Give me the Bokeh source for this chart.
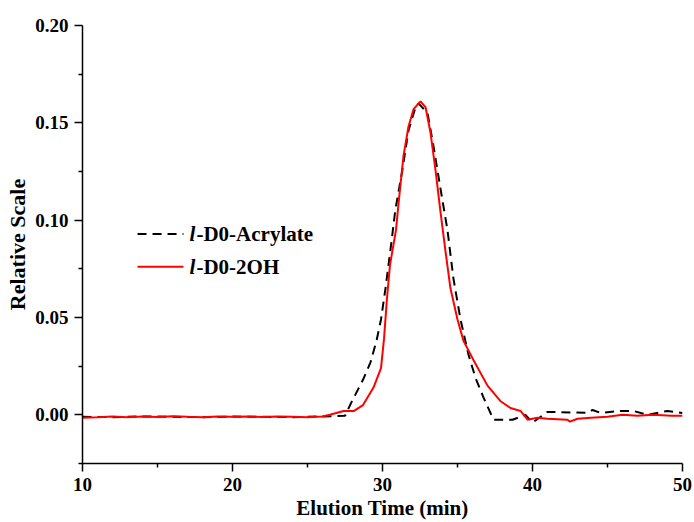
from bokeh.plotting import figure
from bokeh.models import Range1d, Label, Arrow, FixedTicker
from bokeh.embed import file_html
from bokeh.resources import INLINE

# Acrylate (black dashed)
acr_x = [10, 12, 14, 16, 18, 20, 22, 24, 26,
         27.5, 27.9, 28.7, 29.2, 29.6, 29.9, 30.2, 30.4, 30.6, 30.85,
         31.33, 31.73, 32.2, 32.4,
         33.0, 33.4, 33.87, 34.33, 34.73, 35.2, 35.73, 36.2, 36.73, 37.4,
         38.67, 39.53, 40.0, 41.0, 43.67, 44.0, 44.53, 45.87, 46.73, 47.67, 49.0, 50]
acr_y = [-0.001, -0.0012, -0.0008, -0.001, -0.0012, -0.0009, -0.001, -0.0012, -0.0008,
         -0.0005, 0.006, 0.018, 0.027, 0.038, 0.049, 0.065, 0.077, 0.089, 0.105,
         0.126, 0.146, 0.158, 0.160,
         0.155, 0.138, 0.116, 0.095, 0.070, 0.049, 0.031, 0.019, 0.009, -0.0025,
         -0.0025, 0.0, -0.004, 0.0015, 0.001, 0.0025, 0.001, 0.002, 0.002, 0.0, 0.002, 0.001]

# 2OH (red solid)
oh_x = [10, 11, 12, 13, 14, 15, 16, 17, 18, 19, 20, 21, 22, 23, 24, 25, 26,
        26.5, 27.4, 28.1, 28.7, 29.4, 29.9, 30.1, 30.3, 30.5, 30.9,
        31.1, 31.4, 31.73, 32.07, 32.53, 32.87, 33.2, 33.53, 33.87, 34.2,
        34.53, 35.0, 35.4, 36.07, 37.0, 37.87, 38.53, 39.2, 39.67, 40.33,
        41, 42.33, 42.5, 43, 43.9, 45, 46.0, 47, 48, 49.3, 50]
oh_y = [-0.0015, -0.0012, -0.0008, -0.0012, -0.0009, -0.0011, -0.0007, -0.001, -0.0012, -0.0008,
        -0.001, -0.0009, -0.0011, -0.0008, -0.001, -0.0012, -0.0009,
        0.0, 0.002, 0.002, 0.005, 0.014, 0.024, 0.039, 0.060, 0.077, 0.095,
        0.111, 0.133, 0.148, 0.157, 0.161, 0.158, 0.145, 0.126, 0.104, 0.084,
        0.065, 0.049, 0.038, 0.028, 0.015, 0.007, 0.0035, 0.002, -0.0025, -0.0015,
        -0.002, -0.0025, -0.0035, -0.002, -0.0015, -0.001, 0.0, -0.0005, 0.0, -0.0005, -0.0005]

x_ticks = [10, 20, 30, 40, 50]
y_ticks = [0.00, 0.05, 0.10, 0.15, 0.20]
labels = ["l", "-D0-Acrylate", "-D0-2OH"]

FONT = "Liberation Serif"

p = figure(width=694, height=522, output_backend="svg", toolbar_location=None,
           x_range=Range1d(10, 50), y_range=Range1d(-0.025, 0.20))
p.min_border_left = 82
p.min_border_right = 12
p.min_border_top = 25
p.min_border_bottom = 56
p.outline_line_color = None
p.xgrid.visible = False
p.ygrid.visible = False
p.background_fill_color = "white"
p.border_fill_color = "white"

p.line(acr_x, acr_y, line_color="black", line_width=2, line_dash="9 6")
p.line(oh_x, oh_y, line_color="#ff0000", line_width=2)

for ax in (p.xaxis[0], p.yaxis[0]):
    ax.axis_line_width = 1.5
    ax.axis_line_color = "black"
    ax.major_tick_line_width = 1.5
    ax.minor_tick_line_width = 1.5
    ax.major_tick_in = 0
    ax.minor_tick_in = 0
    ax.minor_tick_out = 4
    ax.major_label_text_font = FONT
    ax.major_label_text_font_style = "bold"
    ax.major_label_text_font_size = "19px"
    ax.major_label_text_color = "black"
    ax.axis_label_text_font = FONT
    ax.axis_label_text_font_style = "bold"
    ax.axis_label_text_color = "black"

p.xaxis.axis_label_text_font_size = "21px"
p.yaxis.axis_label_text_font_size = "22px"
p.xaxis.ticker = FixedTicker(ticks=x_ticks, minor_ticks=[15, 25, 35, 45])
p.yaxis.ticker = FixedTicker(ticks=y_ticks, minor_ticks=[-0.025, 0.025, 0.075, 0.125, 0.175])
p.xaxis.major_label_overrides = {t: str(t) for t in x_ticks}
p.yaxis.major_label_overrides = {t: f"{t:.2f}" for t in y_ticks}
p.xaxis.major_tick_out = 8
p.yaxis.major_tick_out = 8
p.xaxis.major_label_standoff = 6
p.yaxis.major_label_standoff = 6
p.xaxis.axis_label = "Elution Time (min)"
p.yaxis.axis_label = "Relative Scale"
p.xaxis.axis_label_standoff = 2
p.yaxis.axis_label_standoff = 2

# legend (manual, to allow italic "l")
leg_x0, leg_x1, leg_tx = 13.67, 16.73, 17.13
leg_y = [0.0929, 0.0761]
p.add_layout(Arrow(end=None, x_start=leg_x0, x_end=leg_x1, y_start=leg_y[0], y_end=leg_y[0],
                   line_color="black", line_width=2, line_dash="9 6"))
p.add_layout(Arrow(end=None, x_start=leg_x0, x_end=leg_x1, y_start=leg_y[1], y_end=leg_y[1],
                   line_color="#ff0000", line_width=2))
for yy, txt in zip(leg_y, labels[1:]):
    p.add_layout(Label(x=leg_tx, y=yy, text=labels[0], text_font=FONT, text_font_style="bold italic",
                       text_font_size="21px", text_baseline="middle", text_color="black"))
    p.add_layout(Label(x=leg_tx, y=yy, x_offset=7, text=txt, text_font=FONT, text_font_style="bold",
                       text_font_size="21px", text_baseline="middle", text_color="black"))

open("out.html", "w").write(file_html(p, INLINE))
